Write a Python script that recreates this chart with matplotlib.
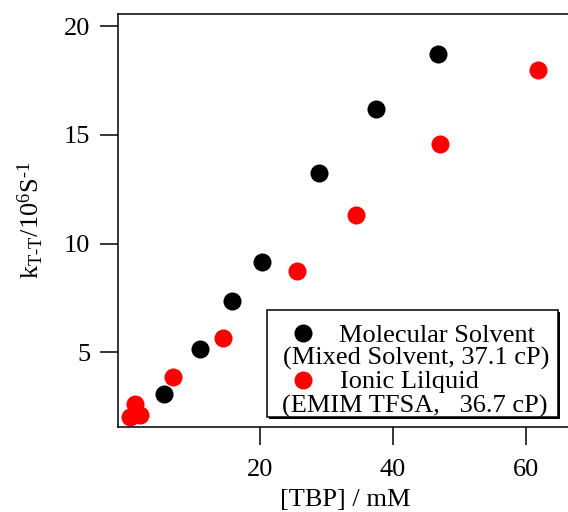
import matplotlib
matplotlib.use("Agg")
import matplotlib.pyplot as plt
from matplotlib.patches import Rectangle
import matplotlib.patheffects as pe

plt.rcParams["font.family"] = ["Liberation Serif", "DejaVu Serif"]
plt.rcParams["mathtext.fontset"] = "custom"
plt.rcParams["mathtext.rm"] = "Liberation Serif"
plt.rcParams["mathtext.it"] = "Liberation Serif:italic"

# molecular solvent (mixed solvent, 37.1 cP)
mol_tbp = [5.6, 11.0, 15.8, 20.3, 28.9, 37.4, 46.8]
mol_k = [3.07, 5.14, 7.35, 9.14, 13.23, 16.18, 18.75]

# ionic liquid (EMIM TFSA, 36.7 cP)
il_tbp = [0.45, 1.95, 1.2, 6.9, 14.4, 25.6, 34.4, 47.1, 61.8]
il_k = [2.01, 2.10, 2.61, 3.85, 5.64, 8.73, 11.30, 14.57, 17.97]

fig = plt.figure(figsize=(5.68, 5.12), dpi=100)
ax = fig.add_axes([118 / 568, 1 - 427 / 512, 450 / 568, 413 / 512])

ax.plot(mol_tbp, mol_k, "o", color="black", markersize=13, markeredgewidth=0)
ax.plot(il_tbp, il_k, "o", color="#ff0000", markersize=13, markeredgewidth=0)

ax.set_xlim(-1.35, 66.3)
ax.set_ylim(1.55, 20.57)
ax.set_xticks([20, 40, 60])
ax.set_yticks([5, 10, 15, 20])
ax.spines["right"].set_visible(False)
for s in ["left", "bottom", "top"]:
    ax.spines[s].set_linewidth(1.1)
ax.tick_params(direction="out", length=13, width=1.1, labelsize=19, pad=7)
ax.tick_params(axis="x", pad=10)

ax.set_xlabel("[TBP] / mM", fontsize=19)
ax.set_ylabel(r"k$_{\mathregular{T\text{-}T}}$/10$^{6}$S$^{\mathregular{\text{-}1}}$", fontsize=19)
ax.xaxis.set_label_coords(0.505, -0.15)
ax.yaxis.set_label_coords(-0.16, 0.5)

# legend box drawn by hand (two-line entries)
box = Rectangle((0.331, 0.024), 0.647, 0.259, transform=ax.transAxes,
                facecolor="white", edgecolor="black", linewidth=1.1, zorder=5,
                path_effects=[pe.SimplePatchShadow(offset=(1.3, -1.3), shadow_rgbFace="black", alpha=1),
                              pe.Normal()])
ax.add_patch(box)
ax.plot([0.411], [0.228], "o", color="black", markersize=13, markeredgewidth=0,
        transform=ax.transAxes, zorder=6, clip_on=False)
ax.plot([0.411], [0.114], "o", color="#ff0000", markersize=13, markeredgewidth=0,
        transform=ax.transAxes, zorder=6, clip_on=False)
lines = [("Molecular Solvent", 0.491, 0.206),
         ("(Mixed Solvent, 37.1 cP)", 0.367, 0.150),
         ("Ionic Lilquid", 0.493, 0.094),
         ("(EMIM TFSA,   36.7 cP)", 0.365, 0.036)]
for txt, x, y in lines:
    ax.text(x, y, txt, transform=ax.transAxes, fontsize=19, va="baseline",
            ha="left", zorder=6)

fig.savefig("out.png", dpi=100)
